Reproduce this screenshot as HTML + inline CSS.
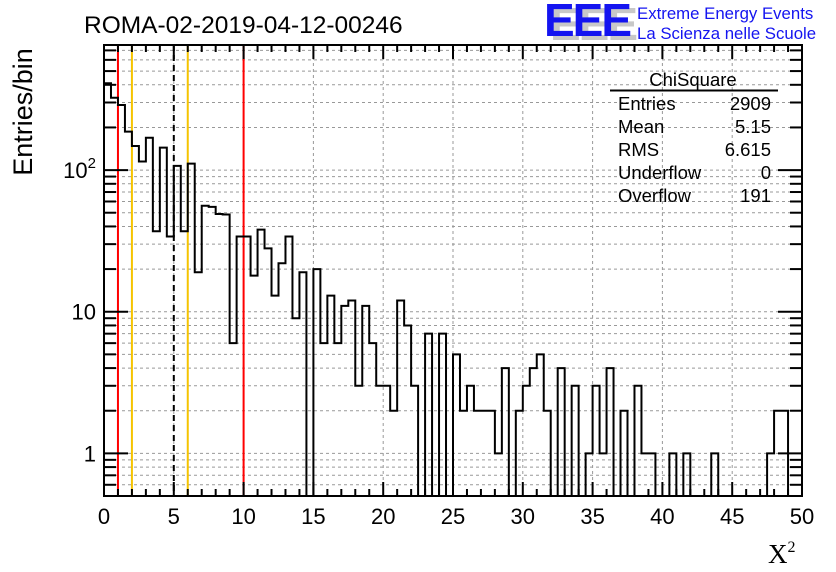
<!DOCTYPE html>
<html><head><meta charset="utf-8"><style>
body{margin:0;background:#fff;}
svg{display:block;font-family:"Liberation Sans",sans-serif;}
</style></head><body>
<svg id="c" width="836" height="572" viewBox="0 0 836 572">
<rect width="836" height="572" fill="#fff"/>
<g id="grid"></g><g id="vlines"></g><g id="hist"></g><g id="axes"></g>
<text x="84" y="33" font-size="24.5">ROMA-02-2019-04-12-00246</text>
<g>
<text x="550" y="40" font-size="46" font-weight="bold" fill="#c8c8c8" letter-spacing="-2">EEE</text>
<text x="544" y="36" font-size="46" font-weight="bold" fill="#1414f0" letter-spacing="-2">EEE</text>
<text x="637" y="19" font-size="16.8" fill="#1414f0">Extreme Energy Events</text>
<text x="637" y="39" font-size="16.8" fill="#1414f0">La Scienza nelle Scuole</text>
</g>
<g font-size="18.5">
<text x="693" y="86" text-anchor="middle">ChiSquare</text>
<line x1="610" y1="90.5" x2="778" y2="90.5" stroke="#000" stroke-width="2"/>
<text x="618" y="110">Entries</text><text x="771" y="110" text-anchor="end">2909</text>
<text x="618" y="133">Mean</text><text x="771" y="133" text-anchor="end">5.15</text>
<text x="618" y="156">RMS</text><text x="771" y="156" text-anchor="end">6.615</text>
<text x="618" y="179">Underflow</text><text x="771" y="179" text-anchor="end">0</text>
<text x="618" y="202">Overflow</text><text x="771" y="202" text-anchor="end">191</text>
</g>
<text transform="translate(32,112) rotate(-90)" font-size="27" text-anchor="middle">Entries/bin</text>
<text x="768" y="563" font-size="27" font-family="Liberation Serif,serif">X<tspan font-size="16" dy="-11">2</tspan></text>
</svg>
<script>
const counts=[410,324,288,187,148,115,169,37,144,34,107,37,111,19,56,55,49,48.6,6,34,34,18,38,28,13,22,34,9,19,0,20,6,13,6,11,12,3,11,6,3,3,2,12,8,3,0,7,0,7,0,5,2,3,2,2,2,1,4,0,2,3,4,5,2,0,4,0,3,0,1,3,1,4,0,2,0,3,1,1,0,0,1,0,1,0,0,0,1,0,0,0,0,0,0,0,1,2,2,0,0];
const binWidth=0.5;
const xTicks=[0,5,10,15,20,25,30,35,40,45,50];
const yLabels=[[1,"1",""],[10,"10",""],[100,"10","2"]];
const markers=[[1,"#f00",false],[2,"#f5c400",false],[5,"#000",true],[6,"#f5c400",false],[10,"#f00",false]];
const L=104,R=802,T=45,B=496,ymin=0.5,ymax=764;
const X=v=>L+(v-0)/50*(R-L);
const Y=v=>B-(Math.log10(v)-Math.log10(ymin))/(Math.log10(ymax)-Math.log10(ymin))*(B-T);
const NS="http://www.w3.org/2000/svg";
function mk(p,t,a){const e=document.createElementNS(NS,t);for(const k in a)e.setAttribute(k,a[k]);p.appendChild(e);return e;}
const grid=document.getElementById('grid'),ax=document.getElementById('axes'),vl=document.getElementById('vlines'),hg=document.getElementById('hist');
xTicks.forEach(t=>{if(t>0&&t<50){const g=mk(grid,'line',{x1:X(t),x2:X(t),y1:T,y2:B,stroke:'#999','stroke-dasharray':'3,3','stroke-width':1});

}});
const ylog=[];for(let d=0.1;d<1000;d*=10){for(let m=1;m<10;m++){const v=Math.round(d*m*100)/100;if(v>=ymin&&v<=ymax)ylog.push([v,m===1]);}}
ylog.forEach(([v,maj])=>{const g=mk(grid,'line',{x1:L,x2:R,y1:Y(v),y2:Y(v),stroke:'#999','stroke-dasharray':'3,3','stroke-width':1});


const len=maj?24:12;
mk(ax,'line',{x1:L,x2:L+len,y1:Y(v),y2:Y(v),stroke:'#000','stroke-width':2});
mk(ax,'line',{x1:R,x2:R-len,y1:Y(v),y2:Y(v),stroke:'#000','stroke-width':2});});
markers.forEach(([v,c,d])=>{const l=mk(vl,'line',{x1:X(v),x2:X(v),y1:T,y2:B,stroke:c,'stroke-width':2});if(d)l.setAttribute('stroke-dasharray','6,4');

});
let d='';
counts.forEach((c,i)=>{const x0=X(i*binWidth),x1=X((i+1)*binWidth);const y=c>0?Y(c):B+2;
d+=(i===0?`M${x0},${y}`:`L${x0},${y}`)+`L${x1},${y}`;});
const hp=mk(hg,'path',{d:d,fill:'none',stroke:'#000','stroke-width':2,'clip-path':'url(#clp)'});


const defs=mk(document.getElementById('c'),'defs',{});const cp=mk(defs,'clipPath',{id:'clp'});mk(cp,'rect',{x:L,y:T,width:R-L,height:B-T});
mk(ax,'rect',{x:L,y:T,width:R-L,height:B-T,fill:'none',stroke:'#000','stroke-width':2});
for(let t=0;t<=50;t+=1){const maj=t%5===0;const len=maj?14:7;
mk(ax,'line',{x1:X(t),x2:X(t),y1:B,y2:B-len,stroke:'#000','stroke-width':2});
mk(ax,'line',{x1:X(t),x2:X(t),y1:T,y2:T+len,stroke:'#000','stroke-width':2});}
xTicks.forEach(t=>{const tx=mk(ax,'text',{x:X(t),y:524,'font-size':22,'text-anchor':'middle'});tx.textContent=t;

});
yLabels.forEach(([v,s,sup])=>{const tx=mk(ax,'text',{x:L-8,y:Y(v)+8,'font-size':22,'text-anchor':'end'});tx.textContent=s;
if(sup){const ts=mk(tx,'tspan',{'font-size':15,dy:-10});ts.textContent=sup;}

});
</script>
</body></html>
